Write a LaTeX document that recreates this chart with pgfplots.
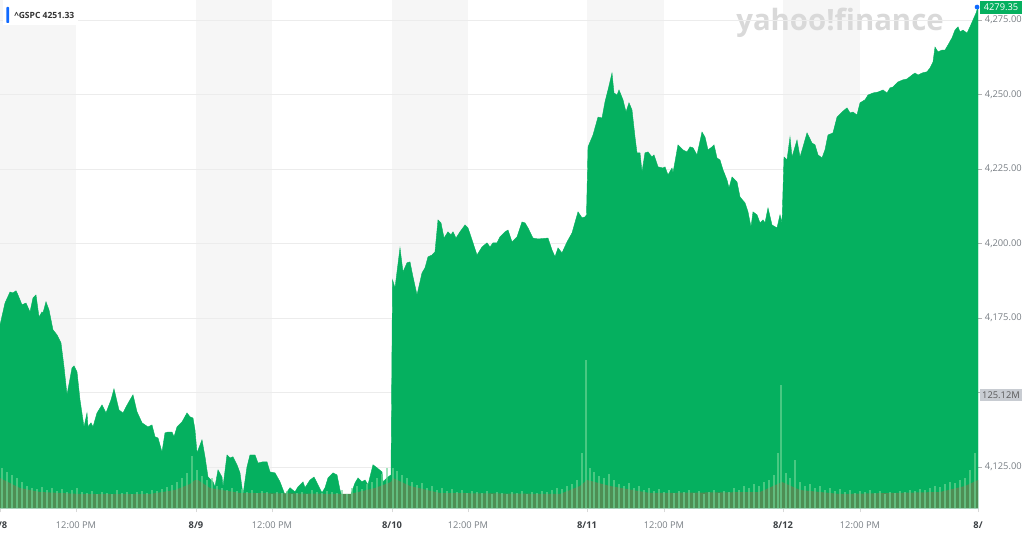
\documentclass[border=0pt]{standalone}
\usepackage{pgfplots}
\pgfplotsset{compat=1.18}
\usepackage{pgfplotstable}
\usepackage{fontspec}
\setmainfont{Open Sans}
\definecolor{yg}{RGB}{5,176,95}
\definecolor{vollight}{RGB}{110,214,150}
\definecolor{voldark}{RGB}{78,142,84}
\definecolor{datecol}{RGB}{60,64,68}
\definecolor{labgray}{RGB}{120,126,132}
\definecolor{bandgray}{RGB}{246,246,246}
\definecolor{gridgray}{RGB}{236,236,236}
\definecolor{ybl}{RGB}{15,105,255}
\definecolor{volbox}{RGB}{200,204,210}
\newcommand\datelab[1]{\textbf{\color{datecol}#1}}

% price: x = position along the five sessions (pixels of the reference), y = index level
\pgfplotstableread{
x y
0 4172.6
5 4180.0
10 4183.7
13 4183.4
16 4184.1
18 4182.7
22 4179.4
26 4180.0
30 4177.0
33 4181.7
36 4182.7
39 4175.3
42 4177.0
43 4176.7
46 4180.4
49 4177.7
53 4171.0
57 4169.3
61 4166.6
64 4158.6
67 4149.2
72 4158.2
74 4158.9
77 4156.9
80 4147.5
84 4138.4
87 4143.1
88 4138.4
91 4139.8
93 4138.4
97 4143.1
102 4145.8
106 4143.1
111 4147.5
114 4151.2
119 4144.1
123 4143.1
126 4145.1
130 4147.5
133 4149.2
137 4143.5
142 4139.8
148 4138.4
152 4139.1
155 4135.1
158 4134.7
162 4130.0
165 4136.4
168 4136.7
172 4136.7
174 4135.1
177 4138.4
182 4140.1
187 4143.1
190 4141.8
193 4141.4
195 4137.4
197 4129.7
202 4134.1
205 4128.4
208 4121.6
213 4120.0
215 4118.3
218 4124.0
222 4121.6
223 4118.3
227 4129.0
230 4128.0
233 4128.4
237 4125.7
240 4123.0
243 4115.6
247 4125.0
250 4129.0
255 4129.0
258 4126.3
263 4126.7
267 4126.7
270 4123.3
275 4123.0
280 4120.0
285 4115.6
290 4118.0
295 4116.6
298 4118.3
303 4120.0
305 4118.0
310 4120.6
314 4121.6
318 4119.0
322 4116.3
325 4118.0
328 4121.3
333 4123.0
337 4122.3
340 4117.3
343 4113.9
347 4114.6
350 4114.9
355 4119.6
358 4121.3
362 4120.0
365 4120.6
368 4119.0
373 4125.7
377 4124.7
382 4123.3
383 4120.0
388 4121.6
391 4122.3
392.5 4187.8
395 4185.1
400 4198.5
403 4190.4
407 4193.5
410 4193.8
413 4188.8
417 4182.7
422 4190.1
425 4191.8
428 4195.5
432 4196.1
435 4197.2
438 4207.9
441 4206.9
444 4201.8
448 4203.9
451 4202.9
453 4203.9
456 4201.8
460 4203.9
465 4206.2
468 4205.2
472 4201.2
477 4196.1
482 4198.8
487 4200.2
490 4198.8
493 4200.2
497 4200.2
500 4202.2
505 4203.9
508 4204.5
512 4200.5
517 4202.2
522 4207.2
525 4206.9
528 4205.2
533 4201.8
538 4201.5
548 4201.8
552 4197.8
555 4195.5
558 4198.5
562 4196.8
567 4200.5
572 4203.5
578 4210.6
582 4208.6
585 4208.9
586.5 4209.6
588 4232.4
593 4236.4
598 4242.4
602 4242.1
605 4247.5
608 4251.5
612 4257.2
614 4250.5
617 4249.8
619 4251.5
623 4248.2
626 4244.1
629 4247.2
632 4244.8
635 4235.7
637 4230.4
640 4230.4
642 4224.0
645 4230.4
648 4230.7
652 4229.0
654 4229.7
658 4225.7
663 4225.3
665 4225.7
668 4223.0
672 4225.3
673 4223.7
678 4233.1
683 4231.4
687 4230.7
690 4232.4
693 4232.1
697 4229.7
702 4237.4
705 4235.7
708 4231.4
712 4232.4
714 4233.1
717 4228.7
720 4228.0
723 4224.7
727 4221.3
729 4218.6
732 4222.3
737 4220.6
740 4215.6
745 4213.6
748 4210.6
751 4205.5
753 4210.6
757 4209.6
760 4206.9
763 4207.9
765 4206.9
768 4211.9
772 4206.2
777 4205.2
780 4209.6
782 4206.9
784 4229.0
787 4228.0
790 4235.7
792 4229.0
797 4234.7
800 4229.0
803 4232.4
807 4237.1
812 4233.7
815 4233.1
818 4229.7
822 4228.7
825 4231.4
828 4236.4
833 4237.1
837 4242.4
842 4244.1
847 4245.5
850 4243.8
853 4244.1
857 4243.1
860 4247.2
865 4248.2
868 4249.8
873 4250.5
878 4250.8
883 4251.5
887 4250.5
890 4252.2
893 4252.5
898 4254.2
903 4254.9
907 4255.2
912 4256.5
915 4257.2
918 4256.5
922 4257.2
927 4257.6
930 4258.9
933 4260.9
935 4265.9
938 4264.3
942 4264.9
945 4264.9
948 4266.6
952 4269.0
955 4271.6
958 4272.7
960 4271.0
963 4271.6
967 4270.6
970 4272.7
973 4275.0
976 4277.3
978 4279.35
}\pricetable

% volume (units of the volume scale), light bars
\pgfplotstableread{
x v
2 40
7 36
12 33
17 30
22 26
27 22
32 20
37 19
42 21
47 18
52 20
57 17
62 19
67 16
72 18
77 20
82 16
87 15
92 17
97 14
102 16
107 15
112 14
117 18
122 15
127 16
132 14
137 16
142 17
147 15
152 18
157 17
162 19
167 21
172 23
177 26
182 30
187 35
192 52
197 38
202 32
207 28
212 30
217 22
222 20
227 18
232 20
237 17
242 19
247 16
252 18
257 15
262 17
267 16
272 14
277 16
282 15
287 17
292 14
297 15
302 16
307 14
312 18
317 16
322 15
327 17
332 16
337 15
342 18
347 14
352 20
357 22
362 19
367 24
372 26
377 30
382 34
387 40
393 40
397 37
402 33
407 30
412 26
417 23
422 25
427 20
432 22
437 18
442 20
447 17
452 19
457 16
462 18
467 15
472 17
477 16
482 15
487 17
492 14
497 16
502 15
507 14
512 16
517 15
522 17
527 14
532 16
537 15
542 17
547 16
552 18
557 20
562 19
567 22
572 24
577 28
582 55
586 148
590 40
594 36
599 32
604 30
609 34
614 28
619 24
624 22
629 25
634 20
639 22
644 18
649 20
654 17
659 19
664 16
669 18
674 15
679 17
684 16
689 18
694 15
699 17
704 14
709 16
714 18
719 15
724 17
729 16
734 20
739 18
744 22
749 20
754 24
759 22
764 26
769 28
774 33
778 55
781 123
786 35
790 30
795 48
800 26
805 22
810 24
815 20
820 22
825 18
830 20
835 17
840 19
845 16
850 18
855 15
860 17
865 16
870 18
875 15
880 17
885 14
890 16
895 15
900 17
905 16
910 18
915 17
920 19
925 18
930 20
935 22
940 21
945 24
950 26
955 25
960 28
965 30
970 38
975 55
}\voltable

% volume, darker (down) bars as a band
\pgfplotstableread{
x v
0 30
8 26
20 20
40 16
80 14
150 14
175 18
190 24
195 28
198 28
210 20
240 15
350 14
375 20
391 26
393 30
410 22
440 15
560 14
580 22
587 28
610 22
650 15
760 16
782 26
800 18
840 14
940 16
965 22
978 28
}\voldarktable

\begin{document}
\begin{tikzpicture}
\begin{axis}[
  at={(0pt,21pt)}, anchor=south west,
  scale only axis, width=733.5pt, height=381pt,
  xmin=0, xmax=978, ymin=4111.2, ymax=4281.7,
  enlargelimits=false, set layers,
  axis x line*=bottom, axis y line*=right,
  x axis line style={draw=black!8},
  y axis line style={draw=none},
  ytick={4125,4150,4175,4200,4225,4250,4275},
  yticklabels={{4,125.00},{},{4,175.00},{4,200.00},{4,225.00},{4,250.00},{4,275.00}},
  xtick={0,76,196,272,392,468,587,664,783,860,978},
  xticklabels={{\datelab{8/8}},{12:00 PM},{\datelab{8/9}},{12:00 PM},{\datelab{8/10}},{12:00 PM},{\datelab{8/11}},{12:00 PM},{\datelab{8/12}},{12:00 PM},{\datelab{8/}}},
  tick align=outside, major tick length=3pt,
  ytick style={draw=black!30, line width=0.5pt},
  xtick style={draw=black!15, line width=0.4pt},
  ymajorgrids, grid style={draw=gridgray, line width=0.5pt},
  tick label style={font=\fontsize{7}{8.4}\selectfont, text=labgray, inner sep=0pt},
  yticklabel style={anchor=west, xshift=2pt},
  xticklabel style={anchor=base, yshift=-12pt},
]
\begin{pgfonlayer}{axis background}
  \fill[bandgray] (axis cs:0,4111.2) rectangle (axis cs:76,4281.7);
  \fill[bandgray] (axis cs:196,4111.2) rectangle (axis cs:272,4281.7);
  \fill[bandgray] (axis cs:392,4111.2) rectangle (axis cs:468,4281.7);
  \fill[bandgray] (axis cs:587,4111.2) rectangle (axis cs:664,4281.7);
  \fill[bandgray] (axis cs:783,4111.2) rectangle (axis cs:860,4281.7);
  \node[anchor=base, text=black!15, font=\fontsize{22}{24}\selectfont\bfseries] at (axis cs:840,4271.3) {yahoo!finance};
\end{pgfonlayer}
\addplot[fill=yg, draw=yg, line width=0.3pt] table[x=x,y=y] {\pricetable} \closedcycle;
\end{axis}

\begin{axis}[
  at={(0pt,21pt)}, anchor=south west,
  scale only axis, width=733.5pt, height=381pt,
  xmin=0, xmax=978, ymin=0, ymax=508,
  enlargelimits=false, hide axis,
]
\addplot[fill=voldark, draw=none] table[x=x,y=v] {\voldarktable} \closedcycle;
\addplot[ybar, bar width=1.1pt, fill=vollight, draw=none] table[x=x,y=v] {\voltable};
\end{axis}

% top-left quote label
\fill[white] (2.25pt,383.25pt) rectangle (58.5pt,402pt);
\fill[ybl, rounded corners=0.6pt] (4.8pt,384.75pt) rectangle (6.9pt,396.75pt);
\node[anchor=west, inner sep=0pt, text=black!80, font=\fontsize{6.4}{8}\selectfont\bfseries] at (10.5pt,390.75pt) {\textasciicircum GSPC\ 4251.33};

% last price tag
\fill[yg] (735pt,391.5pt) rectangle (766.5pt,401.5pt);
\node[inner sep=0pt, text=white, font=\fontsize{7}{8.4}\selectfont] at (750.75pt,396.5pt) {4279.35};
\fill[ybl] (732.8pt,396.7pt) circle (1.8pt);

% volume tag
\fill[volbox] (735pt,101.25pt) rectangle (766.5pt,110.25pt);
\node[inner sep=0pt, text=black!65, font=\fontsize{7}{8.4}\selectfont] at (750.75pt,105.75pt) {125.12M};

\pgfresetboundingbox
\useasboundingbox (0,0) rectangle (768pt,402pt);
\end{tikzpicture}
\end{document}
